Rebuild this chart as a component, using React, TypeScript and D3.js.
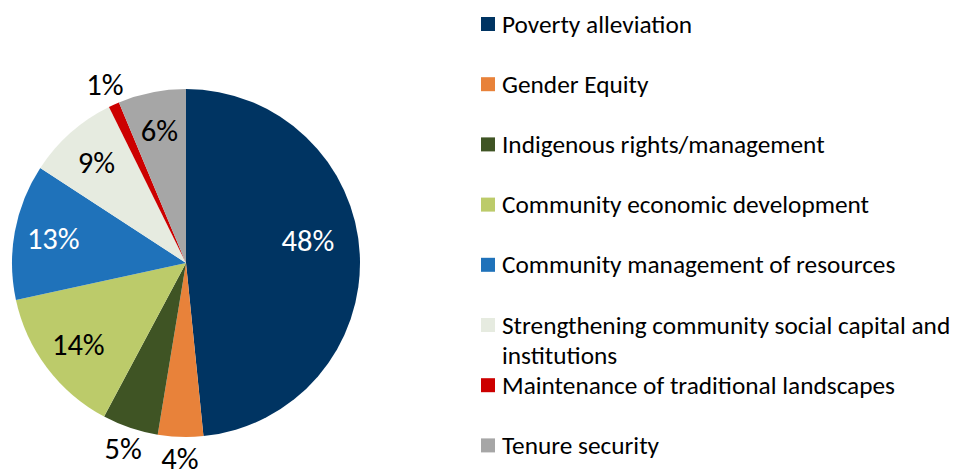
import React from "react";
import * as d3 from "d3";

const categories = [
  "Poverty alleviation",
  "Gender Equity",
  "Indigenous rights/management",
  "Community economic development",
  "Community management of resources",
  "Strengthening community social capital and institutions",
  "Maintenance of traditional landscapes",
  "Tenure security",
];
const values = [48.4, 4.2, 5.2, 13.8, 12.6, 8.5, 1.0, 6.3];
const colors = ["#003462", "#E8823A", "#3F5424", "#BCCB6A", "#1F72BA", "#E6EBE0", "#CC0000", "#A6A6A6"];
const labelColors = ["#FFFFFF", "#000000", "#000000", "#000000", "#FFFFFF", "#000000", "#000000", "#000000"];
const outsideLabel = [false, true, true, false, false, false, true, false];
const legendLines = [
  ["Poverty alleviation"],
  ["Gender Equity"],
  ["Indigenous rights/management"],
  ["Community economic development"],
  ["Community management of resources"],
  ["Strengthening community social capital and", "institutions"],
  ["Maintenance of traditional landscapes"],
  ["Tenure security"],
];

const W = 954, H = 476;
const cx = 186, cy = 263, R = 174;
const FONT = "Calibri, Carlito, Lato, 'Open Sans', sans-serif";

export default function App() {
  const total = d3.sum(values);
  const pie = d3.pie<number>().sort(null).value((d) => d);
  const arcs = pie(values);
  const arc = d3.arc<d3.PieArcDatum<number>>().innerRadius(0).outerRadius(R);
  const labelR = (i: number, a: d3.PieArcDatum<number>) => {
    if (outsideLabel[i]) return 196;
    return a.endAngle - a.startAngle > Math.PI / 2 ? 122 : 135;
  };
  return (
    <svg width={W} height={H} style={{ position: "absolute", left: 0, top: 0 }}>
      <rect width={W} height={H} fill="#fff" />
      <g transform={`translate(${cx},${cy})`}>
        {arcs.map((a, i) => (
          <path key={i} d={arc(a) || ""} fill={colors[i]} />
        ))}
        {arcs.map((a, i) => {
          const mid = (a.startAngle + a.endAngle) / 2;
          const r = labelR(i, a);
          let x = Math.sin(mid) * r;
          let y = -Math.cos(mid) * r;
          if (a.endAngle - a.startAngle > Math.PI / 2) y -= 16;
          return (
            <text
              key={i}
              x={x}
              y={y}
              textAnchor="middle"
              dominantBaseline="central"
              fontFamily={FONT}
              fontSize={30.5}
              fill={labelColors[i]}
            >
              {Math.round((values[i] / total) * 100)}%
            </text>
          );
        })}
      </g>
      <g>
        {categories.map((c, i) => {
          const y = 24 + i * 60.2;
          return (
            <g key={c}>
              <rect x={481} y={y - 7} width={14} height={14} fill={colors[i]} />
              {legendLines[i].map((ln, j) => (
                <text
                  key={j}
                  x={502}
                  y={y + j * 30}
                  dominantBaseline="central"
                  fontFamily={FONT}
                  fontSize={25.3}
                  fill="#000"
                >
                  {ln}
                </text>
              ))}
            </g>
          );
        })}
      </g>
    </svg>
  );
}
